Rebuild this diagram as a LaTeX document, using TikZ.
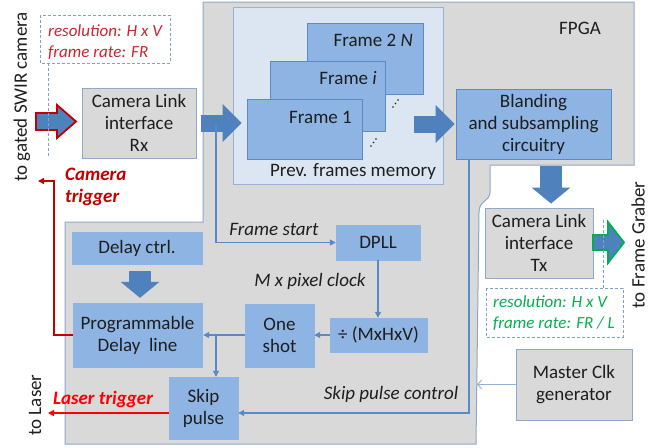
\documentclass[tikz,border=0pt]{standalone}
\usepackage{fontspec}
\setmainfont{Carlito}
\usetikzlibrary{arrows.meta,calc}
\definecolor{boxblue}{HTML}{8DB4E2}
\definecolor{arrblue}{HTML}{4F81BD}
\definecolor{linblue}{HTML}{5A8AC6}
\definecolor{lightarr}{HTML}{95B3D7}
\definecolor{fpgagray}{HTML}{D9D9D9}
\definecolor{edgeblue}{HTML}{8EA9CB}
\definecolor{memfill}{HTML}{DCE6F2}
\definecolor{memedge}{HTML}{95B3D7}
\definecolor{frameedge}{HTML}{5B8BC6}
\definecolor{camred}{HTML}{C00000}
\definecolor{lasred}{HTML}{FF0000}
\definecolor{outgreen}{HTML}{00B050}
\definecolor{dashblue}{HTML}{7FA3D0}
\definecolor{textred}{HTML}{C8262E}
\definecolor{txt}{HTML}{1E1E1E}
\begin{document}
\begin{tikzpicture}[x=1pt,y=-1pt,
  font=\fontsize{19}{22}\selectfont, text=txt,
  graybox/.style={draw=edgeblue, line width=1pt, fill=fpgagray, align=center, inner sep=0pt},
  bluebox/.style={draw=boxblue, fill=boxblue, align=center, inner sep=0pt},
  framebox/.style={draw=frameedge, line width=0.8pt, fill=boxblue, inner sep=0pt},
  lbl/.style={inner sep=0pt, font=\fontsize{19}{22}\selectfont\itshape},
  conn/.style={draw=linblue, line width=1.3pt, -{Triangle[length=6pt,width=6pt]}},
  blockarrow/.style={draw=arrblue, line width=17pt, -{Triangle[length=19pt,width=38pt,line width=0pt]}},
  blockarrowv/.style={draw=arrblue, line width=22pt, -{Triangle[length=16pt,width=39pt,line width=0pt]}},
  dashbox/.style={draw=dashblue, line width=1pt, dash pattern=on 3pt off 2pt},
  dashtext/.style={inner sep=0pt, align=left, font=\fontsize{17}{20.5}\selectfont\itshape}
]
\useasboundingbox (0,0) rectangle (660,447);

% FPGA outline
\draw[fill=fpgagray, draw=edgeblue, line width=1pt]
  (203,2) -- (634,2) -- (634,165) -- (490,165) -- (490,192)
  .. controls (490,202) and (479,200) .. (479,212) -- (476,444)
  -- (65,444) -- (65,222) -- (203,222) -- cycle;
\node[inner sep=0pt] (fpga) at (580,28) {FPGA};

% memory
\node[draw=memedge, line width=1pt, fill=memfill, minimum width=210pt, minimum height=177pt, inner sep=0pt] (mem) at (338,95.5) {};
\node[framebox, minimum width=116pt, minimum height=71pt] (f2n) at (365,58.5) {};
\node[inner sep=0pt, anchor=east] (f2nl) at (413,40) {Frame 2 \textit{N}};
\node[framebox, minimum width=115pt, minimum height=70pt] (fi) at (327.5,96) {};
\node[inner sep=0pt, anchor=east] (fil) at (377,78) {Frame \textit{i}};
\node[framebox, minimum width=115pt, minimum height=60pt] (f1) at (304.5,129) {};
\node[inner sep=0pt, anchor=east] (f1l) at (352,117) {Frame 1};
\foreach \p in {(393,107),(395.5,103.5),(398,100),(371,146),(373.5,142.5),(376,139)}
  \fill[txt] \p circle (0.9pt);
\node[inner sep=0pt] (meml) at (353,172) {Prev. frames memory};

% boxes
\node[graybox, minimum width=114pt, minimum height=70pt] (rx) at (139,123) {Camera Link\\interface\\Rx};
\node[bluebox, draw=frameedge, line width=0.8pt, minimum width=155pt, minimum height=70pt] (bland) at (533.5,124) {Blanding\\and subsampling\\circuitry};
\node[graybox, minimum width=108pt, minimum height=70pt] (tx) at (539,243) {Camera Link\\interface\\Tx};
\node[graybox, minimum width=116pt, minimum height=71pt] (mclk) at (574,384.5) {Master Clk\\generator};
\node[bluebox, minimum width=130pt, minimum height=32pt] (dctrl) at (137,248) {Delay ctrl.};
\node[bluebox, minimum width=129pt, minimum height=64pt] (prog) at (137.5,335) {Programmable\\Delay\ \ line};
\node[bluebox, minimum width=69pt, minimum height=62pt] (skip) at (203.5,408) {Skip\\pulse};
\node[bluebox, minimum width=84pt, minimum height=35pt] (dpll) at (378,242.5) {DPLL};
\node[bluebox, minimum width=97pt, minimum height=34pt] (div) at (378.5,335) {÷ (MxHxV)};
\node[bluebox, minimum width=69pt, minimum height=63pt] (one) at (279.5,335.5) {One\\shot};

% block arrows
\draw[blockarrow] ([xshift=4pt]rx.east) -- ([xshift=9pt]rx.east -| mem.west);
\draw[blockarrow] ([xshift=-30pt]bland.west -| mem.east) -- ([xshift=-1pt]bland.west);
\draw[blockarrowv] ($(tx.north |- bland.south)+(12,7)$) -- ($(tx.north)+(12,-4)$);
\draw[blockarrowv] ($(dctrl.south)+(3,7)$) -- ($(prog.north)+(2.5,-5)$);

% input arrow (red outline)
\draw[draw=camred, line width=1.8pt, fill=arrblue, line join=miter]
  (36,113) -- (57,113) -- (57,105) -- (76,121.5) -- (57,138) -- (57,130) -- (36,130) -- cycle;
% output arrow (green outline)
\draw[draw=outgreen, line width=1.8pt, fill=arrblue, line join=miter]
  (593,235) -- (608,235) -- (608,222) -- (624,242.5) -- (608,263) -- (608,250) -- (593,250) -- cycle;

% dashed info boxes
\draw[dashbox] (40,15) rectangle (170,63);
\draw[dashbox] (48,63) -- (48,157);
\node[dashtext, text=textred, anchor=west] (inres) at (48,42) {resolution: H x V\\frame rate: FR};
\draw[dashbox] (486,288) rectangle (623,337);
\draw[dashbox] (603,220) -- (603,288);
\node[dashtext, text=outgreen, anchor=west] (outres) at (493,313) {resolution: H x V\\frame rate: FR / L};

% side labels
\node[rotate=90, inner sep=0pt] (swir) at (22,97) {to gated SWIR camera};
\node[rotate=90, inner sep=0pt] (fg) at (638,245) {to Frame Graber};
\node[rotate=90, inner sep=0pt] (tolaser) at (35,405) {to Laser};

% signal connectors
\coordinate (fsstart) at (216,125);
\draw[conn] (fsstart) |- (dpll.west);
\node[lbl] (fsl) at (274,229) {Frame start};
\draw[conn] (dpll.south) -- (dpll.south |- div.north);
\node[lbl] (mpx) at (310,281) {M x pixel clock};
\draw[conn] (div.west) -- (one.east |- div.west);
\draw[conn] (one.west |- div.west) -- ([xshift=1pt]prog.east |- div.west);
\coordinate (br) at (216,335);
\draw[conn] (br) -- (br |- skip.north);
\coordinate (spc) at (469,159);
\draw[conn] (spc) |- ([yshift=-5pt]skip.east);
\node[lbl] (spcl) at (391,394) {Skip pulse control};
\coordinate (fpgaedge) at (477,384.5);
\draw[draw=lightarr, line width=1pt, -{Straight Barb[length=4pt,width=9pt]}] (mclk.west) -- (fpgaedge);

% triggers
\coordinate (camend) at (38,181);
\draw[draw=camred, line width=1.5pt, -{Triangle[length=6pt,width=6pt]}] (prog.west) -| (54,181) -- (camend);
\node[inner sep=0pt, anchor=west, align=left, text=camred, font=\fontsize{19}{22}\selectfont\bfseries\itshape] (camtrig) at (65,187) {Camera\\trigger};
\coordinate (lasend) at (48,413);
\draw[draw=lasred, line width=1.5pt, -{Triangle[length=6pt,width=6pt]}] ([yshift=-5pt]skip.west) -- (lasend);
\node[inner sep=0pt, text=lasred, font=\fontsize{19}{22}\selectfont\bfseries\itshape] (lastrig) at (103,399) {Laser trigger};
\end{tikzpicture}
\end{document}
